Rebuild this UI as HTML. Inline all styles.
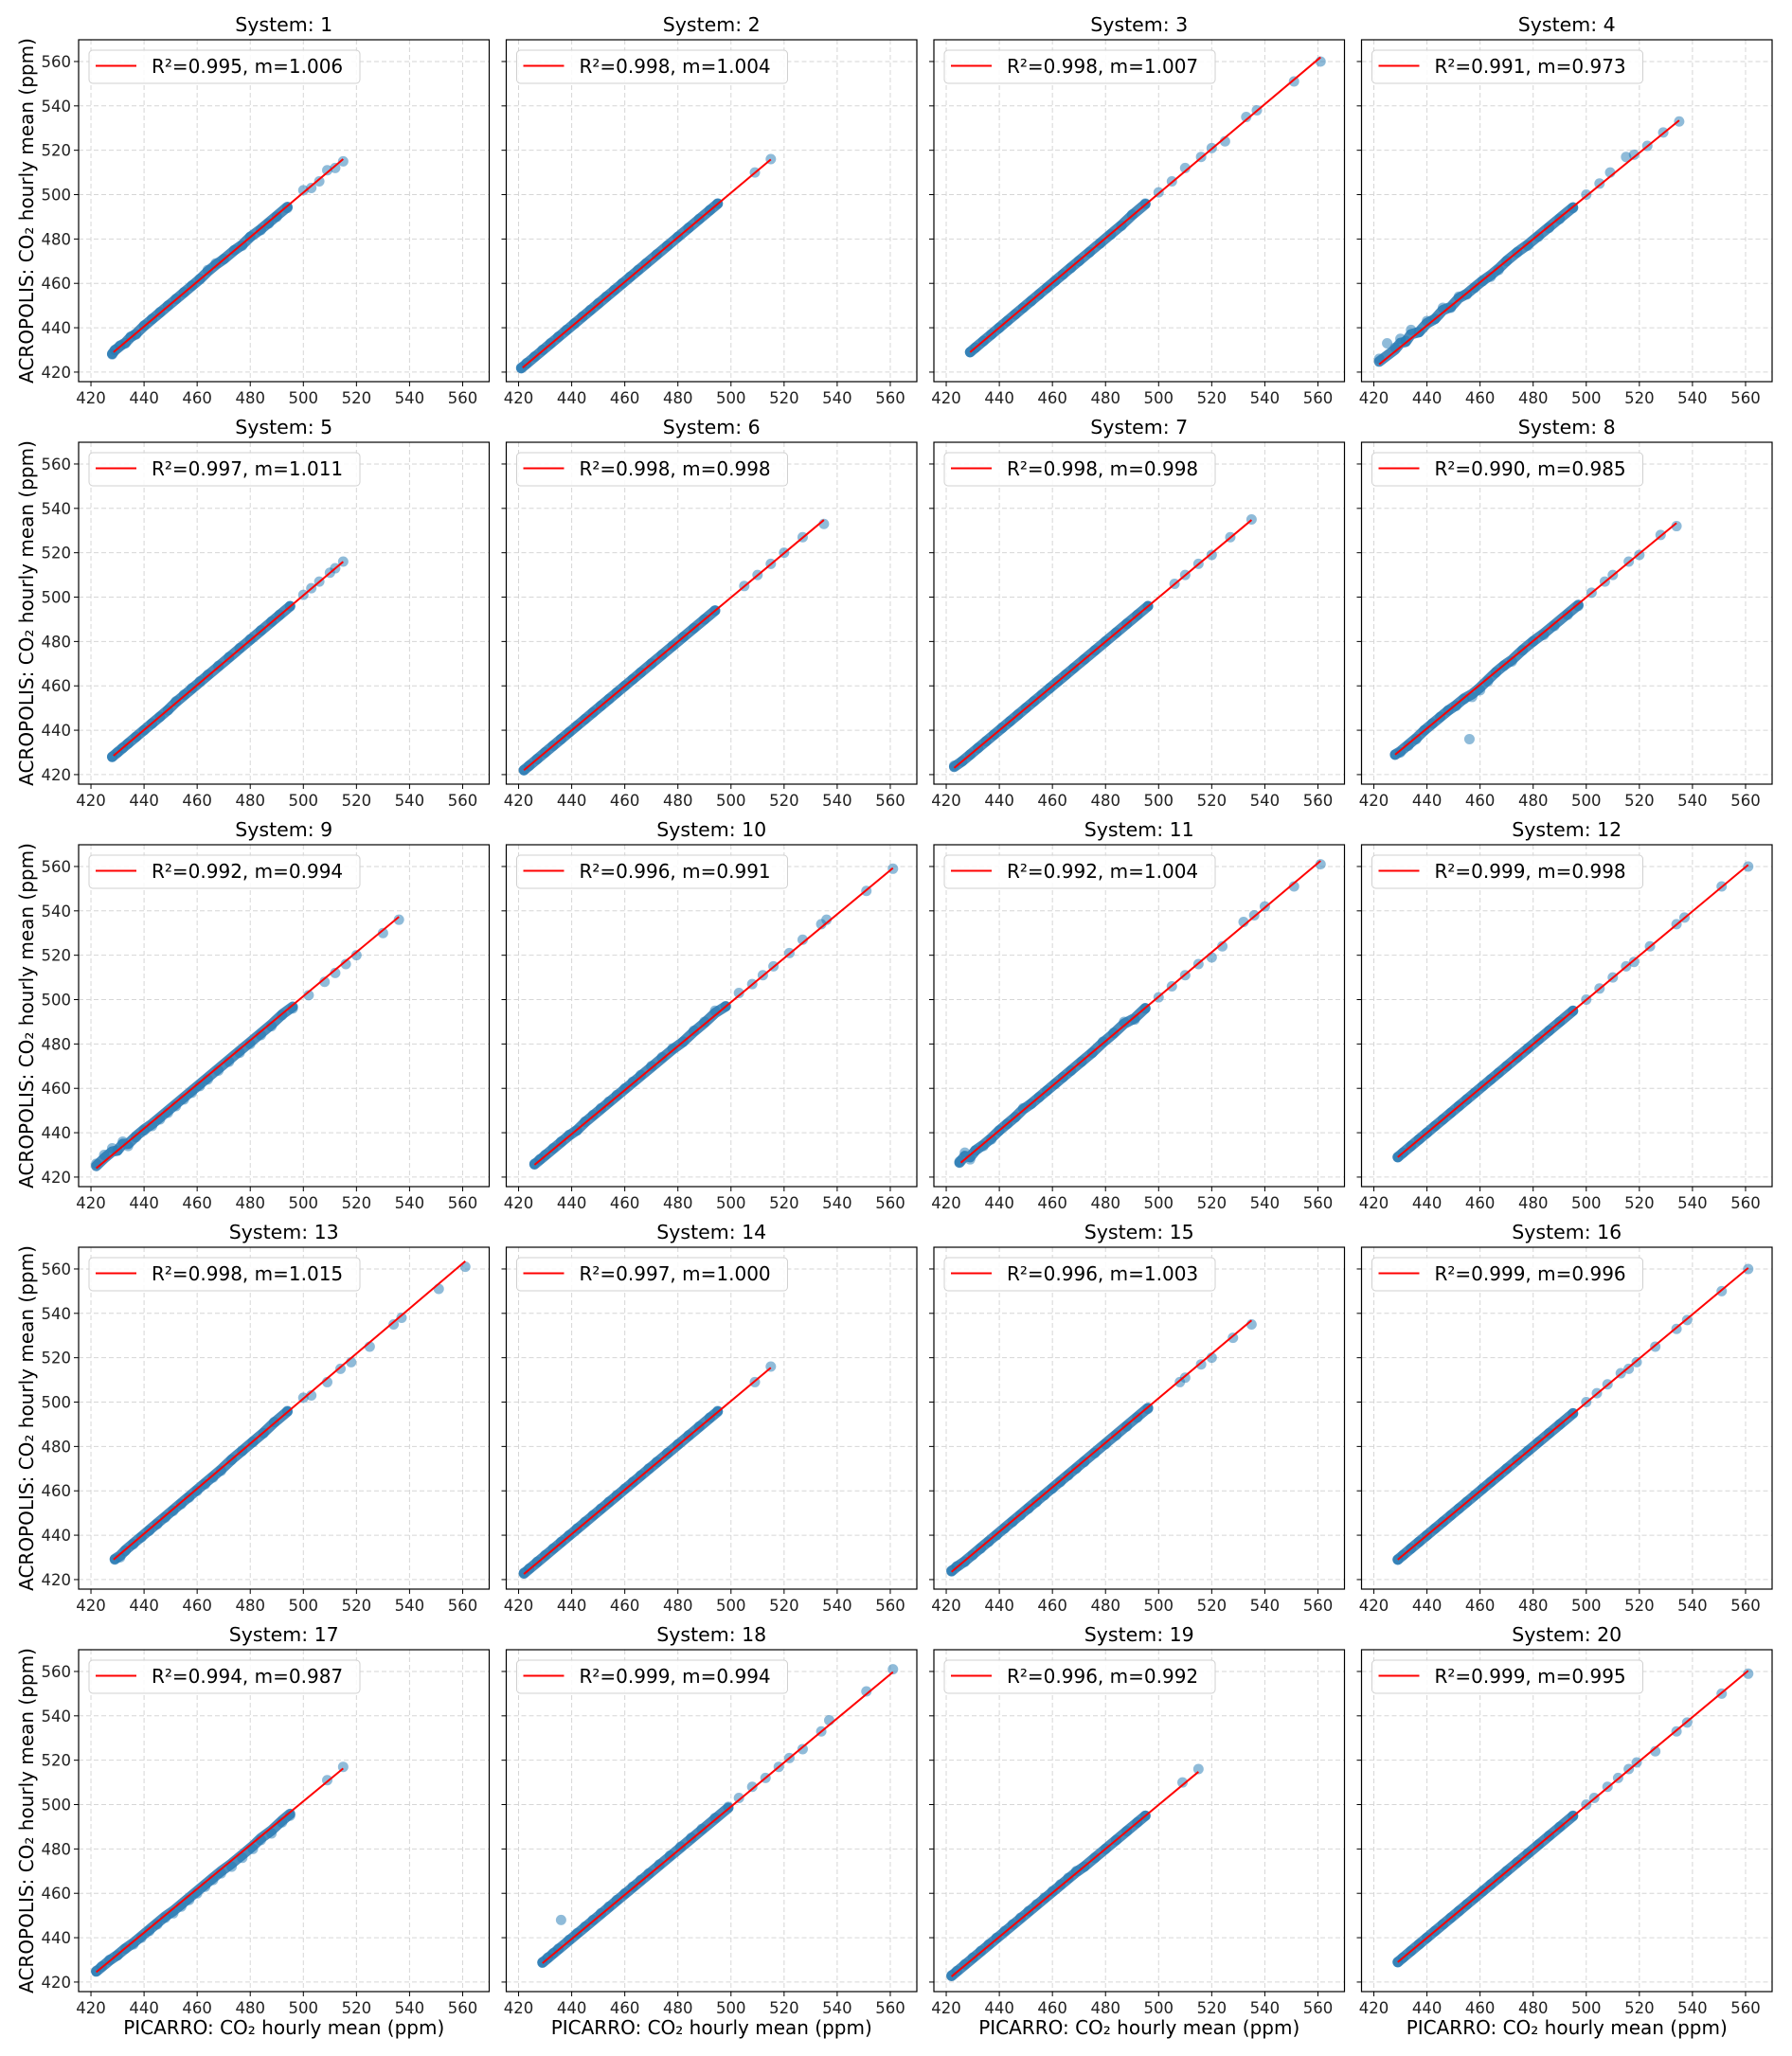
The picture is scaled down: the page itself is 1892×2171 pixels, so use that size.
<!DOCTYPE html>
<html><head><meta charset="utf-8"><style>
html,body{margin:0;padding:0;background:#fff;}
svg{display:block;font-family:"DejaVu Sans","Liberation Sans",sans-serif;}
</style></head><body>
<svg id="fig" width="1892" height="2171" viewBox="0 0 1892 2171" xmlns="http://www.w3.org/2000/svg"></svg>
<script>
// ---- data ----
const tickValues = [420, 440, 460, 480, 500, 520, 540, 560];
const tickLabels = ["420", "440", "460", "480", "500", "520", "540", "560"];
const systems = [1,2,3,4,5,6,7,8,9,10,11,12,13,14,15,16,17,18,19,20];
const r2Values = [0.995,0.998,0.998,0.991,0.997,0.998,0.998,0.990,0.992,0.996,0.992,0.999,0.998,0.997,0.996,0.999,0.994,0.999,0.996,0.999];
const slopes = [1.006,1.004,1.007,0.973,1.011,0.998,0.998,0.985,0.994,0.991,1.004,0.998,1.015,1.000,1.003,0.996,0.987,0.994,0.992,0.995];
const fitStartX = [428.5,421.5,429,422,428.5,422,423,428,422,426,425.5,429,428.5,422,422,429,422,429,422,429];
const fitStartY = [429,422,429,423.5,428.5,422,423,429,424,425.5,426.5,429,429,422.5,423.5,429,424.5,428.5,422.5,429];
const fitEndX = [515,515,561,535,515,535,535,534,536,561,561,561,561,515,535,561,515,561,515,561];
// scatter points per system (PICARRO x, ACROPOLIS y)
const picarroX = [
 [428,429,431,433,435,437,440,443,446,449,452,455,458,461,464,467,470,474,477,480,484,487,490,494,500,503,506,509,512,515],
 [421,423,426,429,432,435,438,441,444,447,450,453,456,459,462,465,468,472,476,480,484,488,492,495,509,515],
 [429,431,434,437,440,443,446,449,452,455,458,461,464,467,470,474,478,482,486,490,495,500,505,510,516,520,525,533,537,551,561],
 [422,425,428,430,432,434,437,440,443,446,449,452,455,458,461,464,467,470,474,478,482,486,490,495,500,505,509,515,518,523,529,535],
 [428,430,432,434,437,440,443,446,449,452,455,458,461,464,468,472,476,480,484,488,491,495,500,503,506,510,512,515],
 [422,424,427,430,433,436,439,442,445,448,451,454,457,460,463,466,470,474,478,482,486,490,494,505,510,515,520,527,535],
 [423,426,429,432,435,438,441,444,447,450,453,456,459,462,465,468,472,476,480,484,488,492,496,506,510,515,520,527,535],
 [428,430,433,436,439,442,445,448,451,454,456,457,460,463,466,469,472,476,480,484,488,493,497,502,507,510,516,520,528,534],
 [422,425,428,430,432,434,437,440,443,446,449,452,455,458,461,464,468,472,476,480,484,488,492,496,502,508,512,516,520,530,536],
 [426,428,430,433,436,439,442,445,448,451,454,457,460,463,466,470,474,478,482,486,490,494,498,503,508,512,516,522,527,534,536,551,561],
 [425,427,429,431,434,437,440,443,446,449,452,455,458,461,464,467,471,475,479,483,487,491,495,500,505,510,515,520,524,532,536,540,551,561],
 [429,431,434,437,440,443,446,449,452,455,458,461,464,467,470,474,478,482,486,490,495,500,505,510,515,518,524,534,537,551,561],
 [429,431,433,436,439,442,445,448,451,454,457,460,463,466,469,473,477,481,485,489,494,500,503,509,514,518,525,534,537,551,561],
 [422,424,427,430,433,436,439,442,445,448,451,454,457,460,463,466,469,472,476,480,484,488,492,495,509,515],
 [422,424,427,430,433,436,439,442,445,448,451,454,457,460,463,466,469,472,476,480,484,488,492,496,508,510,516,520,528,535],
 [429,431,434,437,440,443,446,449,452,455,458,461,464,467,470,474,478,482,486,490,495,500,504,508,513,516,519,526,534,538,551,561],
 [422,424,427,430,433,436,439,442,445,448,451,454,457,460,463,466,469,473,477,481,484,488,492,495,509,515],
 [429,431,433,435,436,439,442,445,448,451,454,457,460,463,466,469,473,477,481,485,489,494,499,503,508,513,518,522,527,534,537,551,561],
 [422,424,427,430,433,436,439,442,445,448,451,454,457,460,463,466,469,472,476,480,484,488,492,495,509,515],
 [429,431,434,437,440,443,446,449,452,455,458,461,464,467,470,474,478,482,486,490,495,500,503,508,512,516,519,526,534,538,551,561]
];
const acropolisY = [
 [428,430,432,433,436,437,441,444,447,450,453,456,459,462,466,469,471,475,477,481,484,487,490,494,502,503,506,511,512,515],
 [422,424,427,430,433,436,439,442,445,448,451,454,457,460,463,466,469,473,477,481,485,489,493,496,510,516],
 [429,431,434,437,440,443,446,449,452,455,458,461,464,467,470,474,478,482,486,491,496,501,506,512,517,521,524,535,538,551,560],
 [426,433,431,435,434,439,438,443,444,449,449,454,455,458,461,463,466,470,474,477,481,485,489,494,500,505,510,517,518,522,528,533],
 [428,430,432,434,437,440,443,446,449,453,456,459,462,465,469,473,477,481,485,489,492,496,501,504,507,511,513,516],
 [422,424,427,430,433,436,439,442,445,448,451,454,457,460,463,466,470,474,478,482,486,490,494,505,510,515,520,527,533],
 [424,426,429,432,435,438,441,444,447,450,453,456,459,462,465,468,472,476,480,484,488,492,496,506,510,515,519,527,535],
 [429,430,433,436,440,443,446,449,451,454,436,455,458,462,466,469,471,476,480,483,487,492,496,502,507,510,516,519,528,532],
 [426,430,433,432,436,434,438,441,443,446,449,452,455,458,461,464,468,472,476,480,484,488,493,496,502,508,512,516,520,530,536],
 [426,428,430,433,436,439,441,445,448,451,454,457,460,463,466,470,474,478,481,486,490,495,497,503,507,511,515,521,527,534,536,549,559],
 [427,431,428,432,434,437,441,444,447,451,453,456,459,462,465,468,472,476,481,485,490,491,496,501,506,511,516,519,524,535,538,542,551,561],
 [429,431,434,437,440,443,446,449,452,455,458,461,464,467,470,474,478,482,486,490,495,500,505,510,515,517,524,534,537,551,560],
 [429,430,433,436,439,442,445,448,451,454,457,460,463,466,469,474,478,482,486,491,496,502,503,509,515,518,525,535,538,551,561],
 [423,425,428,431,434,437,440,443,446,449,452,455,458,461,464,467,470,473,477,481,485,489,493,496,509,516],
 [424,426,428,431,434,437,440,443,446,449,452,455,458,461,464,467,470,473,477,481,485,489,493,497,509,511,517,520,529,535],
 [429,431,434,437,440,443,446,449,452,455,458,461,464,467,470,474,478,482,486,490,495,500,504,508,513,515,518,525,533,537,550,560],
 [425,427,430,432,435,437,440,443,446,449,451,454,457,460,463,466,469,472,476,480,484,487,492,495,511,517],
 [429,431,433,435,448,439,442,445,448,451,454,457,460,463,466,469,473,477,481,485,489,494,499,503,508,512,517,521,525,533,538,551,561],
 [423,425,428,431,434,437,440,443,446,449,452,455,458,461,464,467,470,472,476,480,484,488,492,495,510,516],
 [429,431,434,437,440,443,446,449,452,455,458,461,464,467,470,474,478,482,486,490,495,500,503,508,512,516,519,524,533,537,550,559]
];

// ---- layout ----
const NS = "http://www.w3.org/2000/svg";
const svg = document.getElementById('fig');
const AX_L = 83, AX_T = 42, AX_W = 433.5, AX_H = 361, STEP_X = 451.5, STEP_Y = 425;
const XMIN = 415.35, XMAX = 570.0, YMIN = 415.7, YMAX = 569.8;
function mk(tag, attrs, parent){ const e=document.createElementNS(NS,tag); for(const k in attrs) e.setAttribute(k,attrs[k]); (parent||svg).appendChild(e); return e; }

systems.forEach((sys, i) => {
  const col = i % 4, row = Math.floor(i / 4);
  const L = AX_L + col*STEP_X, T = AX_T + row*STEP_Y;
  const sx = v => L + (v - XMIN) / (XMAX - XMIN) * AX_W;
  const sy = v => T + AX_H - (v - YMIN) / (YMAX - YMIN) * AX_H;
  const fit = x => fitStartY[i] + slopes[i]*(x - fitStartX[i]);
  const g = mk('g', {});
  
  

  // grid
  tickValues.forEach(t => {
    const gx = mk('line', {x1:sx(t), x2:sx(t), y1:T, y2:T+AX_H, stroke:'#d6d6d6', 'stroke-width':1, 'stroke-dasharray':'5,3'}, g);
    
    
    const gy = mk('line', {x1:L, x2:L+AX_W, y1:sy(t), y2:sy(t), stroke:'#d6d6d6', 'stroke-width':1, 'stroke-dasharray':'5,3'}, g);
    
    
  });

  // scatter band (dense part, skipping outliers) + points
  const xs = picarroX[i], ys = acropolisY[i];
  const idx = xs.map((x,k)=>k).filter(k => xs[k] < 500 && Math.abs(ys[k] - fit(xs[k])) < 4).sort((a,b)=>xs[a]-xs[b]);
  const band = mk('polyline', {points: idx.map(k=>sx(xs[k])+','+sy(fit(xs[k]) + (ys[k]-fit(xs[k]))*0.5)).join(' '), fill:'none', stroke:'#2a78b0', 'stroke-width':11, 'stroke-opacity':0.85, 'stroke-linejoin':'round', 'stroke-linecap':'round'}, g);
  
  
  xs.forEach((x,k) => {
    const c = mk('circle', {cx:sx(x), cy:sy(ys[k]), r:5.5, fill:'#1f77b4', 'fill-opacity':0.5}, g);
    
    
  });

  // fit line
  const fl = mk('line', {x1:sx(fitStartX[i]), y1:sy(fit(fitStartX[i])), x2:sx(fitEndX[i]), y2:sy(fit(fitEndX[i])), stroke:'#ff0000', 'stroke-width':2}, g);
  
  

  // frame
  const fr = mk('rect', {x:L, y:T, width:AX_W, height:AX_H, fill:'none', stroke:'#000', 'stroke-width':1.2}, g);
  
  

  // ticks
  tickValues.forEach((t, k) => {
    const xt = mk('line', {x1:sx(t), x2:sx(t), y1:T+AX_H, y2:T+AX_H+5, stroke:'#000', 'stroke-width':1}, g);
    
    
    const xl = mk('text', {x:sx(t), y:T+AX_H+23, 'text-anchor':'middle', 'font-size':16.5, fill:'#222'}, g);
    xl.textContent = tickLabels[k];
    
    
    const yt = mk('line', {x1:L-5, x2:L, y1:sy(t), y2:sy(t), stroke:'#000', 'stroke-width':1}, g);
    
    
    if (col === 0) {
      const yl = mk('text', {x:L-8, y:sy(t)+6, 'text-anchor':'end', 'font-size':16.5, fill:'#222'}, g);
      yl.textContent = tickLabels[k];
      
      
    }
  });

  // title
  const tt = mk('text', {x:L+AX_W/2, y:T-9, 'text-anchor':'middle', 'font-size':20.5, fill:'#000'}, g);
  tt.textContent = 'System: ' + sys;
  
  

  // legend
  const lg = mk('g', {}, g);
  
  
  mk('rect', {x:L+11, y:T+11, width:286, height:35, rx:4, fill:'#fff', 'fill-opacity':0.85, stroke:'#d0d0d0', 'stroke-width':1}, lg);
  mk('line', {x1:L+18, x2:L+61, y1:T+27.5, y2:T+27.5, stroke:'#ff0000', 'stroke-width':2}, lg);
  const lt = mk('text', {x:L+77, y:T+35, 'font-size':20, fill:'#000'}, lg);
  lt.textContent = 'R²=' + r2Values[i].toFixed(3) + ', m=' + slopes[i].toFixed(3);
  
  

  // axis labels
  if (col === 0) {
    const cy = T + AX_H/2;
    const yl = mk('text', {x:0, y:0, 'text-anchor':'middle', 'font-size':20, fill:'#000', transform:'translate(35,'+cy+') rotate(-90)'}, g);
    yl.textContent = 'ACROPOLIS: CO₂ hourly mean (ppm)';
    
    
  }
  if (row === 4) {
    const xl = mk('text', {x:L+AX_W/2, y:T+AX_H+45, 'text-anchor':'middle', 'font-size':20, fill:'#000'}, g);
    xl.textContent = 'PICARRO: CO₂ hourly mean (ppm)';
    
    
  }
});
</script>
</body></html>
